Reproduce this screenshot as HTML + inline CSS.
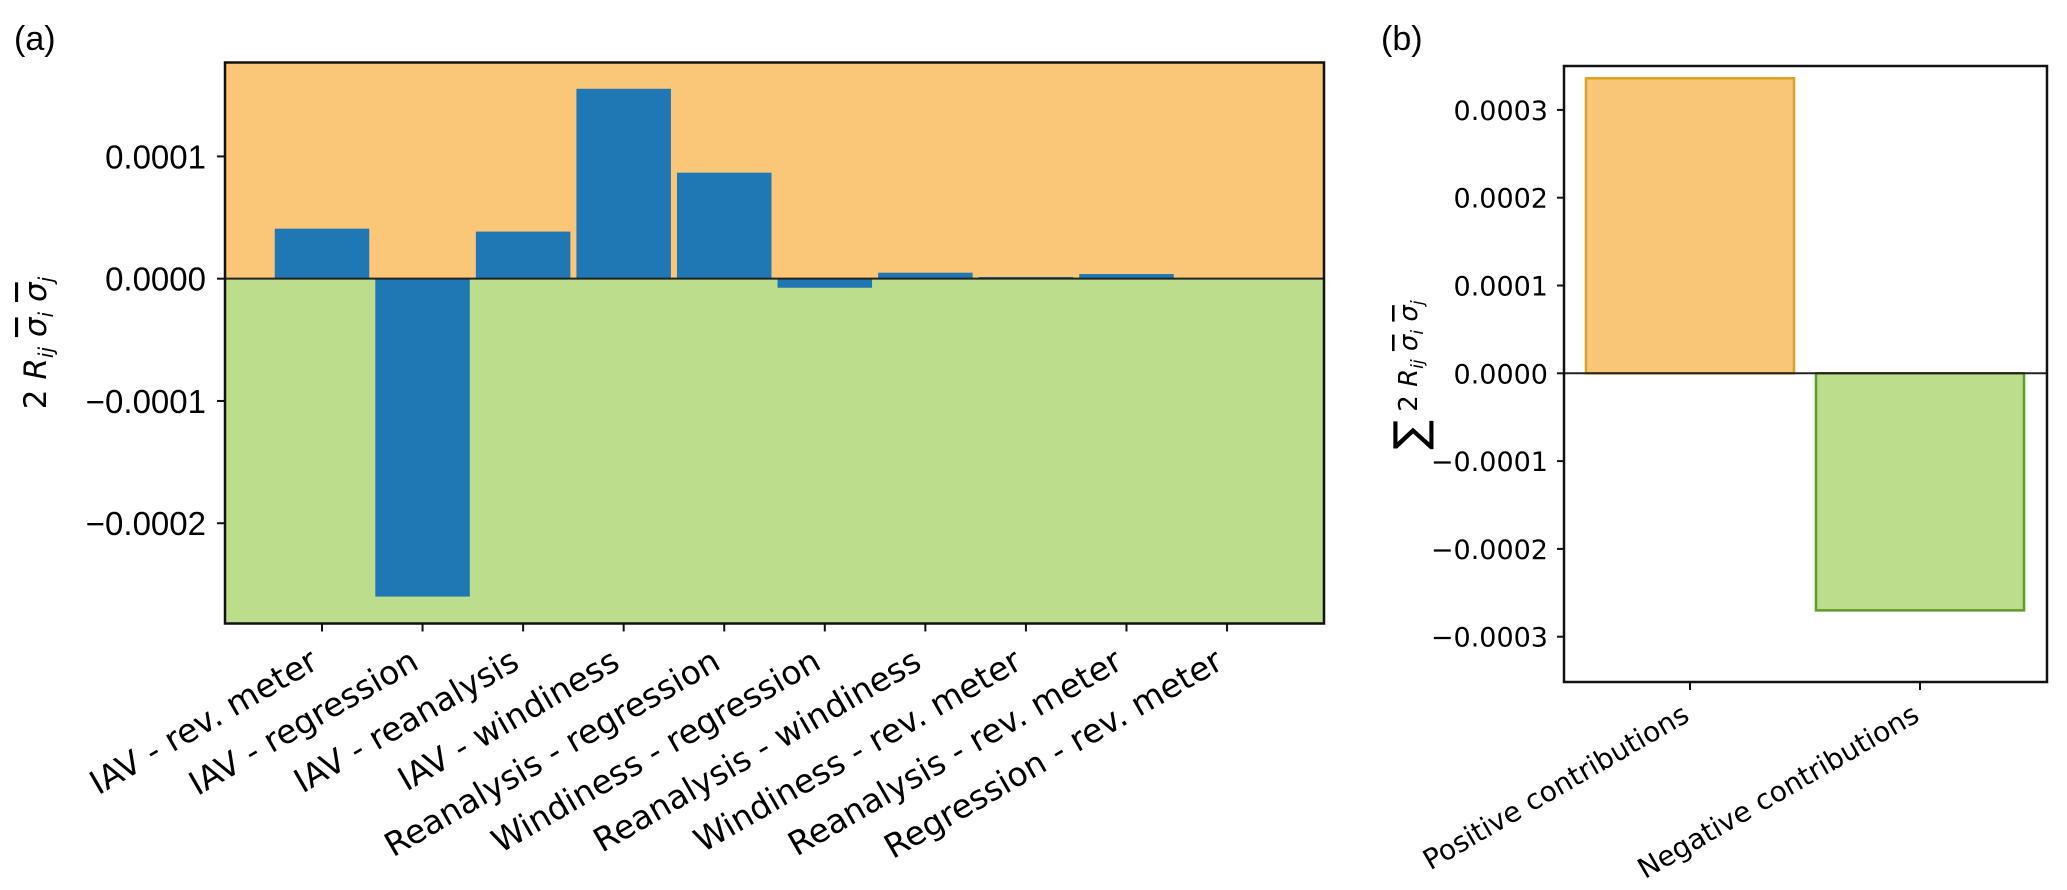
<!DOCTYPE html>
<html><head><meta charset="utf-8">
<style>
html,body{margin:0;padding:0;background:#fff;}
svg{display:block;}
text{fill:#000;}
</style></head>
<body>
<svg id="fig" width="2067" height="890" viewBox="0 0 2067 890" xmlns="http://www.w3.org/2000/svg">
  <text x="14" y="50" font-family="Liberation Sans, sans-serif" font-size="34">(a)</text>
  <text x="1381" y="50" font-family="Liberation Sans, sans-serif" font-size="34">(b)</text>
  <g id="panelA"></g>
  <g id="panelB"></g>
</svg>
<script>
// Panel (a) data
const catsA = ["IAV - rev. meter","IAV - regression","IAV - reanalysis","IAV - windiness","Reanalysis - regression","Windiness - regression","Reanalysis - windiness","Windiness - rev. meter","Reanalysis - rev. meter","Regression - rev. meter"];
const valsA = [0.0000409, -0.000260, 0.0000385, 0.0001553, 0.0000867, -0.0000074, 0.0000049, 0.0000014, 0.0000038, 0.0000002];
const ticksA = [0.0001, 0, -0.0001, -0.0002];
const tickLabelsA = ["0.0001","0.0000","\u22120.0001","\u22120.0002"];
// Panel (b) data
const catsB = ["Positive contributions","Negative contributions"];
const valsB = [0.000336, -0.000270];
const ticksB = [0.0003,0.0002,0.0001,0,-0.0001,-0.0002,-0.0003];
const tickLabelsB = ["0.0003","0.0002","0.0001","0.0000","\u22120.0001","\u22120.0002","\u22120.0003"];

const NS="http://www.w3.org/2000/svg";
function mk(parent,tag,attrs){const e=document.createElementNS(NS,tag);for(const k in attrs)e.setAttribute(k,attrs[k]);parent.appendChild(e);return e;}

// ---------- Panel A ----------
(function(){
  const g=document.getElementById('panelA');
  const L=225,R=1324,T=62.5,B=623.5;
  const yMax=1.768e-4,yMin=-2.82e-4;
  const y=v=>T+(yMax-v)/(yMax-yMin)*(B-T);
  const x=i=>322+i*100.56;
  const bw=94.5;
  const y0=y(0);
  let r=mk(g,'rect',{x:L,y:T,width:R-L,height:y0-T,fill:'#fac677'});
  
  
  r=mk(g,'rect',{x:L,y:y0,width:R-L,height:B-y0,fill:'#bcde8c'});
  
  
  valsA.forEach((v,i)=>{
    const top=Math.min(y(v),y0),h=Math.abs(y(v)-y0);
    const b=mk(g,'rect',{x:x(i)-bw/2,y:top,width:bw,height:Math.max(h,0.5),fill:'#1f77b4'});
    
    
  });
  let ln=mk(g,'line',{x1:L,x2:R,y1:y0,y2:y0,stroke:'#222','stroke-width':2});
  
  
  let fr=mk(g,'rect',{x:L,y:T,width:R-L,height:B-T,fill:'none',stroke:'#111','stroke-width':2.5});
  
  
  ticksA.forEach((t,i)=>{
    const yy=y(t);
    mk(g,'line',{x1:L-8,x2:L,y1:yy,y2:yy,stroke:'#111','stroke-width':2});
    const tx=mk(g,'text',{x:206,y:yy+12,'text-anchor':'end','font-family':'Liberation Sans, sans-serif','font-size':33});
    tx.textContent=tickLabelsA[i];
    
    
  });
  catsA.forEach((c,i)=>{
    const xx=x(i);
    mk(g,'line',{x1:xx,x2:xx,y1:B,y2:B+8,stroke:'#111','stroke-width':2});
    const ax=xx-2,ay=B+44;
    const tx=mk(g,'text',{x:ax,y:ay,'text-anchor':'end','font-family':'DejaVu Sans, sans-serif','font-size':33,transform:`rotate(-30 ${ax} ${ay})`});
    tx.textContent=c;
    
    
  });
  const yl=mk(g,'text',{x:0,y:0,'text-anchor':'middle','font-family':'DejaVu Sans, sans-serif','font-size':31,transform:'translate(46 343) rotate(-90)'});
  yl.innerHTML='2 <tspan font-style="italic">R</tspan><tspan font-style="italic" font-size="20" dy="7">ij</tspan><tspan dy="-7"> </tspan><tspan font-style="italic" text-decoration="overline">σ</tspan><tspan font-style="italic" font-size="20" dy="7">i</tspan><tspan dy="-7"> </tspan><tspan font-style="italic" text-decoration="overline">σ</tspan><tspan font-style="italic" font-size="20" dy="7">j</tspan>';
  
  
})();

// ---------- Panel B ----------
(function(){
  const g=document.getElementById('panelB');
  const L=1564,R=2047,T=66,B=682;
  const z=373.3,per=87.8e4; // px per unit
  const y=v=>z-v*per;
  const x=i=>1690+i*230;
  const bw=208;
  const fills=['#f8c677','#bcde8c'],strokes=['#dca321','#5f9a2a'];
  valsB.forEach((v,i)=>{
    const top=Math.min(y(v),z),h=Math.abs(y(v)-z);
    const b=mk(g,'rect',{x:x(i)-bw/2,y:top,width:bw,height:h,fill:fills[i],stroke:strokes[i],'stroke-width':2.5});
    
    
  });
  let ln=mk(g,'line',{x1:L,x2:R,y1:z,y2:z,stroke:'#222','stroke-width':2});
  
  
  let fr=mk(g,'rect',{x:L,y:T,width:R-L,height:B-T,fill:'none',stroke:'#111','stroke-width':2.5});
  
  
  ticksB.forEach((t,i)=>{
    const yy=y(t);
    mk(g,'line',{x1:L-7,x2:L,y1:yy,y2:yy,stroke:'#111','stroke-width':2});
    const tx=mk(g,'text',{x:1548,y:yy+10,'text-anchor':'end','font-family':'DejaVu Sans, sans-serif','font-size':27});
    tx.textContent=tickLabelsB[i];
    
    
  });
  catsB.forEach((c,i)=>{
    const xx=x(i);
    mk(g,'line',{x1:xx,x2:xx,y1:B,y2:B+8,stroke:'#111','stroke-width':2});
    const ax=xx+1,ay=B+38;
    const tx=mk(g,'text',{x:ax,y:ay,'text-anchor':'end','font-family':'DejaVu Sans, sans-serif','font-size':28,transform:`rotate(-30 ${ax} ${ay})`});
    tx.textContent=c;
    
    
  });
  const yl=mk(g,'text',{x:0,y:0,'text-anchor':'middle','font-family':'DejaVu Sans, sans-serif','font-size':26,transform:'translate(1417 375) rotate(-90)'});
  yl.innerHTML='<tspan font-size="44" dy="8">∑</tspan><tspan dy="-8"> 2 </tspan><tspan font-style="italic">R</tspan><tspan font-style="italic" font-size="17" dy="6">ij</tspan><tspan dy="-6"> </tspan><tspan font-style="italic" text-decoration="overline">σ</tspan><tspan font-style="italic" font-size="17" dy="6">i</tspan><tspan dy="-6"> </tspan><tspan font-style="italic" text-decoration="overline">σ</tspan><tspan font-style="italic" font-size="17" dy="6">j</tspan>';
  
  
})();
</script>
</body></html>
